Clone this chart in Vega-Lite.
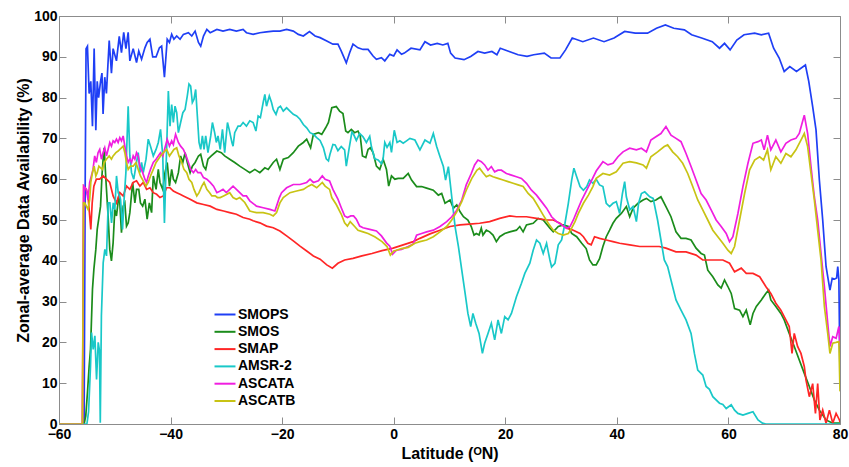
{
"$schema": "https://vega.github.io/schema/vega-lite/v6.json",
"width": 781, "height": 408,
"autosize": {"type": "none"},
"padding": {"left": 59, "top": 16, "right": 9, "bottom": 43},
"background": "white",
"config": {"view": {"stroke": null}, "font": "Liberation Sans"},
"data": {"values": [
{"sat":"SMOPS","lat":-60,"pct":0},{"sat":"SMOPS","lat":-55.5,"pct":0},{"sat":"SMOPS","lat":-55.3,"pct":60},{"sat":"SMOPS","lat":-55.15,"pct":92},{"sat":"SMOPS","lat":-54.9,"pct":92.6},{"sat":"SMOPS","lat":-54.6,"pct":81},{"sat":"SMOPS","lat":-54.3,"pct":84},{"sat":"SMOPS","lat":-54.0,"pct":73},{"sat":"SMOPS","lat":-53.7,"pct":92},{"sat":"SMOPS","lat":-53.4,"pct":72},{"sat":"SMOPS","lat":-53.15,"pct":84},{"sat":"SMOPS","lat":-52.9,"pct":80},{"sat":"SMOPS","lat":-52.55,"pct":84},{"sat":"SMOPS","lat":-52.3,"pct":86},{"sat":"SMOPS","lat":-52.1,"pct":76},{"sat":"SMOPS","lat":-51.8,"pct":85},{"sat":"SMOPS","lat":-51.5,"pct":81},{"sat":"SMOPS","lat":-51.0,"pct":94},{"sat":"SMOPS","lat":-50.6,"pct":86},{"sat":"SMOPS","lat":-50.3,"pct":92},{"sat":"SMOPS","lat":-49.7,"pct":89},{"sat":"SMOPS","lat":-49.2,"pct":95},{"sat":"SMOPS","lat":-48.8,"pct":91},{"sat":"SMOPS","lat":-48.4,"pct":96},{"sat":"SMOPS","lat":-48.0,"pct":92},{"sat":"SMOPS","lat":-47.6,"pct":96},{"sat":"SMOPS","lat":-47.3,"pct":89},{"sat":"SMOPS","lat":-46.7,"pct":92},{"sat":"SMOPS","lat":-46.1,"pct":88.6},{"sat":"SMOPS","lat":-45.7,"pct":91.4},{"sat":"SMOPS","lat":-45.2,"pct":89.4},{"sat":"SMOPS","lat":-44.6,"pct":92.2},{"sat":"SMOPS","lat":-44.2,"pct":93.5},{"sat":"SMOPS","lat":-43.7,"pct":94.3},{"sat":"SMOPS","lat":-43.2,"pct":90},{"sat":"SMOPS","lat":-42.6,"pct":90},{"sat":"SMOPS","lat":-42.0,"pct":92.2},{"sat":"SMOPS","lat":-41.6,"pct":92.6},{"sat":"SMOPS","lat":-41.1,"pct":85},{"sat":"SMOPS","lat":-40.6,"pct":94.3},{"sat":"SMOPS","lat":-40.2,"pct":93.5},{"sat":"SMOPS","lat":-39.8,"pct":95.5},{"sat":"SMOPS","lat":-39.4,"pct":94.3},{"sat":"SMOPS","lat":-38.9,"pct":95.1},{"sat":"SMOPS","lat":-38.3,"pct":94.3},{"sat":"SMOPS","lat":-37.7,"pct":95.5},{"sat":"SMOPS","lat":-36.8,"pct":95.9},{"sat":"SMOPS","lat":-36.2,"pct":95.1},{"sat":"SMOPS","lat":-35.6,"pct":96.3},{"sat":"SMOPS","lat":-35.0,"pct":93.5},{"sat":"SMOPS","lat":-34.6,"pct":92.6},{"sat":"SMOPS","lat":-34.1,"pct":95.1},{"sat":"SMOPS","lat":-33.5,"pct":96.7},{"sat":"SMOPS","lat":-32.9,"pct":95.9},{"sat":"SMOPS","lat":-31.7,"pct":96.7},{"sat":"SMOPS","lat":-30.6,"pct":96.3},{"sat":"SMOPS","lat":-29.4,"pct":96.7},{"sat":"SMOPS","lat":-28.2,"pct":96.3},{"sat":"SMOPS","lat":-27.0,"pct":96.7},{"sat":"SMOPS","lat":-26.4,"pct":95.9},{"sat":"SMOPS","lat":-25.2,"pct":95.5},{"sat":"SMOPS","lat":-24.0,"pct":95.9},{"sat":"SMOPS","lat":-22.8,"pct":96.1},{"sat":"SMOPS","lat":-21.6,"pct":96.3},{"sat":"SMOPS","lat":-20.4,"pct":96.3},{"sat":"SMOPS","lat":-19.2,"pct":96.7},{"sat":"SMOPS","lat":-18.0,"pct":96.3},{"sat":"SMOPS","lat":-17.1,"pct":95.5},{"sat":"SMOPS","lat":-16.2,"pct":95.1},{"sat":"SMOPS","lat":-15.1,"pct":96.2},{"sat":"SMOPS","lat":-14.1,"pct":95.1},{"sat":"SMOPS","lat":-13.2,"pct":94.7},{"sat":"SMOPS","lat":-12.0,"pct":93.9},{"sat":"SMOPS","lat":-10.9,"pct":93.1},{"sat":"SMOPS","lat":-10.0,"pct":93.1},{"sat":"SMOPS","lat":-9.4,"pct":91.4},{"sat":"SMOPS","lat":-8.5,"pct":88.5},{"sat":"SMOPS","lat":-7.9,"pct":91.0},{"sat":"SMOPS","lat":-7.3,"pct":93.1},{"sat":"SMOPS","lat":-6.4,"pct":92.2},{"sat":"SMOPS","lat":-5.5,"pct":91.8},{"sat":"SMOPS","lat":-4.6,"pct":91.8},{"sat":"SMOPS","lat":-3.7,"pct":90.2},{"sat":"SMOPS","lat":-3.1,"pct":89.4},{"sat":"SMOPS","lat":-2.2,"pct":89.8},{"sat":"SMOPS","lat":-1.6,"pct":89.0},{"sat":"SMOPS","lat":-0.7,"pct":90.6},{"sat":"SMOPS","lat":0.0,"pct":90.2},{"sat":"SMOPS","lat":0.6,"pct":91.7},{"sat":"SMOPS","lat":1.4,"pct":90.6},{"sat":"SMOPS","lat":1.9,"pct":90.9},{"sat":"SMOPS","lat":3.1,"pct":92.1},{"sat":"SMOPS","lat":4.7,"pct":91.7},{"sat":"SMOPS","lat":5.6,"pct":93.7},{"sat":"SMOPS","lat":6.6,"pct":92.9},{"sat":"SMOPS","lat":7.8,"pct":93.3},{"sat":"SMOPS","lat":8.8,"pct":92.9},{"sat":"SMOPS","lat":9.7,"pct":93.3},{"sat":"SMOPS","lat":10.2,"pct":90.9},{"sat":"SMOPS","lat":11.0,"pct":89.7},{"sat":"SMOPS","lat":12.6,"pct":89.3},{"sat":"SMOPS","lat":13.8,"pct":90.1},{"sat":"SMOPS","lat":15.1,"pct":91.3},{"sat":"SMOPS","lat":16.3,"pct":90.9},{"sat":"SMOPS","lat":17.6,"pct":91.3},{"sat":"SMOPS","lat":18.5,"pct":90.5},{"sat":"SMOPS","lat":19.1,"pct":92.1},{"sat":"SMOPS","lat":20.7,"pct":91.3},{"sat":"SMOPS","lat":22.3,"pct":90.5},{"sat":"SMOPS","lat":23.9,"pct":90.1},{"sat":"SMOPS","lat":25.1,"pct":90.5},{"sat":"SMOPS","lat":27.0,"pct":90.9},{"sat":"SMOPS","lat":28.2,"pct":89.7},{"sat":"SMOPS","lat":29.8,"pct":89.7},{"sat":"SMOPS","lat":30.8,"pct":91.7},{"sat":"SMOPS","lat":32.0,"pct":94.6},{"sat":"SMOPS","lat":33.9,"pct":93.7},{"sat":"SMOPS","lat":35.8,"pct":94.6},{"sat":"SMOPS","lat":37.7,"pct":93.7},{"sat":"SMOPS","lat":39.5,"pct":94.6},{"sat":"SMOPS","lat":41.4,"pct":96.2},{"sat":"SMOPS","lat":43.3,"pct":95.8},{"sat":"SMOPS","lat":45.5,"pct":95.8},{"sat":"SMOPS","lat":47.1,"pct":97.0},{"sat":"SMOPS","lat":48.7,"pct":97.8},{"sat":"SMOPS","lat":50.2,"pct":97.0},{"sat":"SMOPS","lat":52.1,"pct":96.6},{"sat":"SMOPS","lat":53.4,"pct":95.4},{"sat":"SMOPS","lat":55.2,"pct":94.6},{"sat":"SMOPS","lat":57.1,"pct":93.7},{"sat":"SMOPS","lat":58.4,"pct":92.1},{"sat":"SMOPS","lat":59.3,"pct":93.3},{"sat":"SMOPS","lat":60.3,"pct":91.7},{"sat":"SMOPS","lat":61.5,"pct":94.1},{"sat":"SMOPS","lat":62.8,"pct":95.4},{"sat":"SMOPS","lat":64.7,"pct":95.8},{"sat":"SMOPS","lat":65.9,"pct":95.4},{"sat":"SMOPS","lat":67.2,"pct":95.8},{"sat":"SMOPS","lat":68.1,"pct":92.1},{"sat":"SMOPS","lat":69.1,"pct":89.7},{"sat":"SMOPS","lat":70.0,"pct":86.4},{"sat":"SMOPS","lat":71.0,"pct":87.6},{"sat":"SMOPS","lat":72.2,"pct":86.4},{"sat":"SMOPS","lat":73.8,"pct":88.0},{"sat":"SMOPS","lat":74.4,"pct":84},{"sat":"SMOPS","lat":75.1,"pct":77.8},{"sat":"SMOPS","lat":75.7,"pct":72.1},{"sat":"SMOPS","lat":76.3,"pct":59.8},{"sat":"SMOPS","lat":76.9,"pct":50},{"sat":"SMOPS","lat":77.5,"pct":38.6},{"sat":"SMOPS","lat":77.8,"pct":36.1},{"sat":"SMOPS","lat":78.2,"pct":32.8},{"sat":"SMOPS","lat":78.6,"pct":35.7},{"sat":"SMOPS","lat":79.0,"pct":35.5},{"sat":"SMOPS","lat":79.4,"pct":35.8},{"sat":"SMOPS","lat":79.6,"pct":38.6},{"sat":"SMOPS","lat":79.8,"pct":35.3},{"sat":"SMOPS","lat":80,"pct":12},
{"sat":"SMOS","lat":-60,"pct":0},{"sat":"SMOS","lat":-55.5,"pct":0},{"sat":"SMOS","lat":-55.2,"pct":2},{"sat":"SMOS","lat":-54.9,"pct":7.7},{"sat":"SMOS","lat":-54.6,"pct":14},{"sat":"SMOS","lat":-54.35,"pct":18.3},{"sat":"SMOS","lat":-54.0,"pct":33},{"sat":"SMOS","lat":-53.75,"pct":37.9},{"sat":"SMOS","lat":-53.4,"pct":42.8},{"sat":"SMOS","lat":-53.15,"pct":47.7},{"sat":"SMOS","lat":-52.8,"pct":51},{"sat":"SMOS","lat":-52.55,"pct":53.4},{"sat":"SMOS","lat":-52.3,"pct":60.8},{"sat":"SMOS","lat":-52.05,"pct":65.7},{"sat":"SMOS","lat":-51.9,"pct":67.7},{"sat":"SMOS","lat":-51.6,"pct":60},{"sat":"SMOS","lat":-51.2,"pct":51},{"sat":"SMOS","lat":-50.9,"pct":42.8},{"sat":"SMOS","lat":-50.6,"pct":40},{"sat":"SMOS","lat":-50.3,"pct":44.4},{"sat":"SMOS","lat":-50.0,"pct":52.6},{"sat":"SMOS","lat":-49.7,"pct":51},{"sat":"SMOS","lat":-49.2,"pct":56.7},{"sat":"SMOS","lat":-48.8,"pct":46.9},{"sat":"SMOS","lat":-48.5,"pct":53.4},{"sat":"SMOS","lat":-48.2,"pct":54.2},{"sat":"SMOS","lat":-47.9,"pct":48.5},{"sat":"SMOS","lat":-47.6,"pct":49.3},{"sat":"SMOS","lat":-47.3,"pct":51.8},{"sat":"SMOS","lat":-46.8,"pct":59.2},{"sat":"SMOS","lat":-46.4,"pct":54.2},{"sat":"SMOS","lat":-46.1,"pct":57.5},{"sat":"SMOS","lat":-45.7,"pct":57.5},{"sat":"SMOS","lat":-45.4,"pct":54.2},{"sat":"SMOS","lat":-45.0,"pct":53.4},{"sat":"SMOS","lat":-44.6,"pct":55.1},{"sat":"SMOS","lat":-44.2,"pct":50.2},{"sat":"SMOS","lat":-43.8,"pct":54.2},{"sat":"SMOS","lat":-43.4,"pct":51.8},{"sat":"SMOS","lat":-43.1,"pct":60.8},{"sat":"SMOS","lat":-42.6,"pct":57.5},{"sat":"SMOS","lat":-42.2,"pct":62.4},{"sat":"SMOS","lat":-41.9,"pct":59.2},{"sat":"SMOS","lat":-41.4,"pct":57.5},{"sat":"SMOS","lat":-41.0,"pct":61.6},{"sat":"SMOS","lat":-40.6,"pct":64.1},{"sat":"SMOS","lat":-40.2,"pct":58.3},{"sat":"SMOS","lat":-39.8,"pct":62.4},{"sat":"SMOS","lat":-39.5,"pct":60},{"sat":"SMOS","lat":-39.1,"pct":59.2},{"sat":"SMOS","lat":-38.6,"pct":61.6},{"sat":"SMOS","lat":-38.2,"pct":65.7},{"sat":"SMOS","lat":-37.8,"pct":64.1},{"sat":"SMOS","lat":-37.4,"pct":66.5},{"sat":"SMOS","lat":-37.0,"pct":64.1},{"sat":"SMOS","lat":-36.5,"pct":61.6},{"sat":"SMOS","lat":-36.1,"pct":63.2},{"sat":"SMOS","lat":-35.6,"pct":64.1},{"sat":"SMOS","lat":-35.0,"pct":65.7},{"sat":"SMOS","lat":-34.6,"pct":66.1},{"sat":"SMOS","lat":-34.1,"pct":63.2},{"sat":"SMOS","lat":-33.7,"pct":62.4},{"sat":"SMOS","lat":-33.3,"pct":64.9},{"sat":"SMOS","lat":-32.7,"pct":65.7},{"sat":"SMOS","lat":-31.7,"pct":66.9},{"sat":"SMOS","lat":-30.9,"pct":66.5},{"sat":"SMOS","lat":-30.3,"pct":65.7},{"sat":"SMOS","lat":-29.4,"pct":64.9},{"sat":"SMOS","lat":-28.5,"pct":64.1},{"sat":"SMOS","lat":-27.6,"pct":63.2},{"sat":"SMOS","lat":-26.7,"pct":62.4},{"sat":"SMOS","lat":-25.8,"pct":61.6},{"sat":"SMOS","lat":-24.9,"pct":62.4},{"sat":"SMOS","lat":-24.0,"pct":61.6},{"sat":"SMOS","lat":-23.1,"pct":62.8},{"sat":"SMOS","lat":-22.5,"pct":62.4},{"sat":"SMOS","lat":-21.6,"pct":64.1},{"sat":"SMOS","lat":-21.0,"pct":64.9},{"sat":"SMOS","lat":-20.4,"pct":62.4},{"sat":"SMOS","lat":-19.8,"pct":64.9},{"sat":"SMOS","lat":-18.9,"pct":65.3},{"sat":"SMOS","lat":-18.0,"pct":66.5},{"sat":"SMOS","lat":-17.1,"pct":68.1},{"sat":"SMOS","lat":-16.2,"pct":69.0},{"sat":"SMOS","lat":-15.6,"pct":69.8},{"sat":"SMOS","lat":-14.9,"pct":67.7},{"sat":"SMOS","lat":-14.4,"pct":71.0},{"sat":"SMOS","lat":-13.5,"pct":71.4},{"sat":"SMOS","lat":-12.9,"pct":71.0},{"sat":"SMOS","lat":-12.2,"pct":72.6},{"sat":"SMOS","lat":-11.7,"pct":73.9},{"sat":"SMOS","lat":-11.1,"pct":77.5},{"sat":"SMOS","lat":-10.3,"pct":77.8},{"sat":"SMOS","lat":-9.7,"pct":76.7},{"sat":"SMOS","lat":-9.1,"pct":76.1},{"sat":"SMOS","lat":-8.6,"pct":71.8},{"sat":"SMOS","lat":-8.2,"pct":71.4},{"sat":"SMOS","lat":-7.6,"pct":72.2},{"sat":"SMOS","lat":-7.0,"pct":71.4},{"sat":"SMOS","lat":-6.4,"pct":71.8},{"sat":"SMOS","lat":-6.0,"pct":70.6},{"sat":"SMOS","lat":-5.6,"pct":65.7},{"sat":"SMOS","lat":-5.0,"pct":65.3},{"sat":"SMOS","lat":-4.6,"pct":67.3},{"sat":"SMOS","lat":-4.2,"pct":67.7},{"sat":"SMOS","lat":-3.7,"pct":66.5},{"sat":"SMOS","lat":-3.1,"pct":63.2},{"sat":"SMOS","lat":-2.5,"pct":62.4},{"sat":"SMOS","lat":-1.9,"pct":64.9},{"sat":"SMOS","lat":-1.3,"pct":62.4},{"sat":"SMOS","lat":-0.9,"pct":58.3},{"sat":"SMOS","lat":-0.4,"pct":60.8},{"sat":"SMOS","lat":0.2,"pct":60.0},{"sat":"SMOS","lat":0.8,"pct":60.2},{"sat":"SMOS","lat":1.7,"pct":60.2},{"sat":"SMOS","lat":2.6,"pct":61.4},{"sat":"SMOS","lat":3.2,"pct":59.8},{"sat":"SMOS","lat":4.1,"pct":58.2},{"sat":"SMOS","lat":5.0,"pct":58.2},{"sat":"SMOS","lat":5.9,"pct":57.8},{"sat":"SMOS","lat":7.1,"pct":57.3},{"sat":"SMOS","lat":8.0,"pct":56.1},{"sat":"SMOS","lat":8.6,"pct":56.5},{"sat":"SMOS","lat":9.2,"pct":54.1},{"sat":"SMOS","lat":10.1,"pct":54.9},{"sat":"SMOS","lat":10.7,"pct":52.9},{"sat":"SMOS","lat":11.3,"pct":53.7},{"sat":"SMOS","lat":11.9,"pct":52.0},{"sat":"SMOS","lat":12.5,"pct":50.8},{"sat":"SMOS","lat":13.3,"pct":50.0},{"sat":"SMOS","lat":13.9,"pct":48.4},{"sat":"SMOS","lat":14.4,"pct":46.3},{"sat":"SMOS","lat":14.8,"pct":46.7},{"sat":"SMOS","lat":15.3,"pct":46.3},{"sat":"SMOS","lat":15.7,"pct":48.0},{"sat":"SMOS","lat":16.0,"pct":46.3},{"sat":"SMOS","lat":16.6,"pct":47.5},{"sat":"SMOS","lat":17.2,"pct":47.1},{"sat":"SMOS","lat":17.8,"pct":46.3},{"sat":"SMOS","lat":18.4,"pct":44.7},{"sat":"SMOS","lat":19.0,"pct":45.9},{"sat":"SMOS","lat":19.9,"pct":46.7},{"sat":"SMOS","lat":20.8,"pct":47.1},{"sat":"SMOS","lat":22.0,"pct":47.5},{"sat":"SMOS","lat":22.6,"pct":48.4},{"sat":"SMOS","lat":23.2,"pct":47.1},{"sat":"SMOS","lat":23.8,"pct":48.8},{"sat":"SMOS","lat":25.0,"pct":49.2},{"sat":"SMOS","lat":25.9,"pct":50.4},{"sat":"SMOS","lat":26.8,"pct":50.0},{"sat":"SMOS","lat":28.0,"pct":48.0},{"sat":"SMOS","lat":28.6,"pct":47.1},{"sat":"SMOS","lat":29.5,"pct":48.4},{"sat":"SMOS","lat":30.4,"pct":48.8},{"sat":"SMOS","lat":31.3,"pct":48.4},{"sat":"SMOS","lat":31.9,"pct":46.7},{"sat":"SMOS","lat":32.8,"pct":45.9},{"sat":"SMOS","lat":33.7,"pct":44.3},{"sat":"SMOS","lat":34.5,"pct":43.0},{"sat":"SMOS","lat":35.1,"pct":40.2},{"sat":"SMOS","lat":35.7,"pct":39.0},{"sat":"SMOS","lat":36.3,"pct":39.0},{"sat":"SMOS","lat":36.9,"pct":40.5},{"sat":"SMOS","lat":37.5,"pct":43.5},{"sat":"SMOS","lat":38.1,"pct":45.9},{"sat":"SMOS","lat":38.7,"pct":47.5},{"sat":"SMOS","lat":39.3,"pct":49.2},{"sat":"SMOS","lat":39.9,"pct":50.4},{"sat":"SMOS","lat":40.8,"pct":51.6},{"sat":"SMOS","lat":41.7,"pct":53.3},{"sat":"SMOS","lat":42.3,"pct":50.8},{"sat":"SMOS","lat":42.9,"pct":52.9},{"sat":"SMOS","lat":43.8,"pct":54.1},{"sat":"SMOS","lat":44.7,"pct":54.9},{"sat":"SMOS","lat":45.3,"pct":55.3},{"sat":"SMOS","lat":46.1,"pct":54.5},{"sat":"SMOS","lat":47.0,"pct":54.9},{"sat":"SMOS","lat":47.9,"pct":55.7},{"sat":"SMOS","lat":48.8,"pct":53.3},{"sat":"SMOS","lat":49.7,"pct":50.8},{"sat":"SMOS","lat":50.6,"pct":47.1},{"sat":"SMOS","lat":51.5,"pct":45.5},{"sat":"SMOS","lat":52.4,"pct":45.5},{"sat":"SMOS","lat":53.3,"pct":45.1},{"sat":"SMOS","lat":54.2,"pct":43.1},{"sat":"SMOS","lat":55.1,"pct":41.8},{"sat":"SMOS","lat":55.7,"pct":41.4},{"sat":"SMOS","lat":56.3,"pct":37.7},{"sat":"SMOS","lat":57.2,"pct":36.1},{"sat":"SMOS","lat":58.1,"pct":34.1},{"sat":"SMOS","lat":58.7,"pct":33.3},{"sat":"SMOS","lat":59.3,"pct":35.3},{"sat":"SMOS","lat":59.9,"pct":33.7},{"sat":"SMOS","lat":60.5,"pct":32.0},{"sat":"SMOS","lat":61.1,"pct":28.3},{"sat":"SMOS","lat":62.0,"pct":27.9},{"sat":"SMOS","lat":62.6,"pct":26.3},{"sat":"SMOS","lat":63.2,"pct":27.9},{"sat":"SMOS","lat":63.9,"pct":24.3},{"sat":"SMOS","lat":64.4,"pct":27.1},{"sat":"SMOS","lat":65.0,"pct":28.8},{"sat":"SMOS","lat":65.9,"pct":30.4},{"sat":"SMOS","lat":66.7,"pct":32.0},{"sat":"SMOS","lat":67.2,"pct":32.8},{"sat":"SMOS","lat":67.6,"pct":30.4},{"sat":"SMOS","lat":68.5,"pct":28.8},{"sat":"SMOS","lat":69.4,"pct":27.1},{"sat":"SMOS","lat":70.0,"pct":25.5},{"sat":"SMOS","lat":70.9,"pct":22.2},{"sat":"SMOS","lat":71.8,"pct":19.0},{"sat":"SMOS","lat":72.7,"pct":15.7},{"sat":"SMOS","lat":73.6,"pct":12.4},{"sat":"SMOS","lat":74.5,"pct":9.2},{"sat":"SMOS","lat":75.4,"pct":5.9},{"sat":"SMOS","lat":76.3,"pct":3.4},{"sat":"SMOS","lat":77.5,"pct":1.0},{"sat":"SMOS","lat":78.7,"pct":0.2},{"sat":"SMOS","lat":80,"pct":0.2},
{"sat":"SMAP","lat":-60,"pct":0},{"sat":"SMAP","lat":-55.8,"pct":0},{"sat":"SMAP","lat":-55.6,"pct":58.3},{"sat":"SMAP","lat":-55.1,"pct":57.5},{"sat":"SMAP","lat":-54.8,"pct":55.9},{"sat":"SMAP","lat":-54.5,"pct":51},{"sat":"SMAP","lat":-54.3,"pct":47.7},{"sat":"SMAP","lat":-54.05,"pct":54.2},{"sat":"SMAP","lat":-53.75,"pct":58.3},{"sat":"SMAP","lat":-53.3,"pct":60},{"sat":"SMAP","lat":-52.7,"pct":60},{"sat":"SMAP","lat":-52.1,"pct":60.8},{"sat":"SMAP","lat":-51.5,"pct":60},{"sat":"SMAP","lat":-50.9,"pct":59.2},{"sat":"SMAP","lat":-50.3,"pct":55.9},{"sat":"SMAP","lat":-49.7,"pct":54.2},{"sat":"SMAP","lat":-49.1,"pct":56.7},{"sat":"SMAP","lat":-48.5,"pct":55.9},{"sat":"SMAP","lat":-47.9,"pct":58.3},{"sat":"SMAP","lat":-47.3,"pct":57.5},{"sat":"SMAP","lat":-46.7,"pct":59.2},{"sat":"SMAP","lat":-46.1,"pct":59.6},{"sat":"SMAP","lat":-45.5,"pct":58.3},{"sat":"SMAP","lat":-44.9,"pct":59.2},{"sat":"SMAP","lat":-44.3,"pct":57.5},{"sat":"SMAP","lat":-43.7,"pct":57.9},{"sat":"SMAP","lat":-43.1,"pct":56.7},{"sat":"SMAP","lat":-42.5,"pct":56.3},{"sat":"SMAP","lat":-41.9,"pct":55.5},{"sat":"SMAP","lat":-41.3,"pct":55.9},{"sat":"SMAP","lat":-40.7,"pct":57.9},{"sat":"SMAP","lat":-40.1,"pct":57.9},{"sat":"SMAP","lat":-39.5,"pct":57.1},{"sat":"SMAP","lat":-38.9,"pct":56.7},{"sat":"SMAP","lat":-38.3,"pct":56.3},{"sat":"SMAP","lat":-37.7,"pct":55.9},{"sat":"SMAP","lat":-36.5,"pct":55.1},{"sat":"SMAP","lat":-35.3,"pct":54.2},{"sat":"SMAP","lat":-34.1,"pct":53.8},{"sat":"SMAP","lat":-32.9,"pct":53.4},{"sat":"SMAP","lat":-31.7,"pct":52.6},{"sat":"SMAP","lat":-30.5,"pct":52.2},{"sat":"SMAP","lat":-29.4,"pct":51.8},{"sat":"SMAP","lat":-28.2,"pct":51.4},{"sat":"SMAP","lat":-27.0,"pct":50.6},{"sat":"SMAP","lat":-25.8,"pct":50.2},{"sat":"SMAP","lat":-25.2,"pct":49.8},{"sat":"SMAP","lat":-24.0,"pct":49.3},{"sat":"SMAP","lat":-22.8,"pct":48.5},{"sat":"SMAP","lat":-21.6,"pct":48.1},{"sat":"SMAP","lat":-20.4,"pct":47.3},{"sat":"SMAP","lat":-19.2,"pct":46.1},{"sat":"SMAP","lat":-18.0,"pct":44.9},{"sat":"SMAP","lat":-16.8,"pct":43.6},{"sat":"SMAP","lat":-15.6,"pct":42.4},{"sat":"SMAP","lat":-14.4,"pct":41.2},{"sat":"SMAP","lat":-13.2,"pct":40.4},{"sat":"SMAP","lat":-12.0,"pct":39.0},{"sat":"SMAP","lat":-11.0,"pct":38.2},{"sat":"SMAP","lat":-10.0,"pct":39.4},{"sat":"SMAP","lat":-8.8,"pct":40.2},{"sat":"SMAP","lat":-7.3,"pct":40.6},{"sat":"SMAP","lat":-5.7,"pct":41.2},{"sat":"SMAP","lat":-3.9,"pct":41.8},{"sat":"SMAP","lat":-2.1,"pct":42.5},{"sat":"SMAP","lat":-0.1,"pct":43.1},{"sat":"SMAP","lat":1.7,"pct":43.9},{"sat":"SMAP","lat":3.5,"pct":44.7},{"sat":"SMAP","lat":4.7,"pct":45.5},{"sat":"SMAP","lat":6.5,"pct":46.6},{"sat":"SMAP","lat":8.3,"pct":47.5},{"sat":"SMAP","lat":10.1,"pct":48.4},{"sat":"SMAP","lat":11.9,"pct":48.8},{"sat":"SMAP","lat":13.6,"pct":49.0},{"sat":"SMAP","lat":15.4,"pct":49.2},{"sat":"SMAP","lat":17.2,"pct":49.6},{"sat":"SMAP","lat":19.0,"pct":50.4},{"sat":"SMAP","lat":20.8,"pct":51.0},{"sat":"SMAP","lat":22.0,"pct":50.8},{"sat":"SMAP","lat":23.8,"pct":50.8},{"sat":"SMAP","lat":25.6,"pct":50.4},{"sat":"SMAP","lat":27.4,"pct":50.0},{"sat":"SMAP","lat":28.6,"pct":50.0},{"sat":"SMAP","lat":29.8,"pct":49.2},{"sat":"SMAP","lat":31.0,"pct":48.0},{"sat":"SMAP","lat":32.2,"pct":47.5},{"sat":"SMAP","lat":33.4,"pct":46.7},{"sat":"SMAP","lat":34.0,"pct":45.9},{"sat":"SMAP","lat":34.8,"pct":44.3},{"sat":"SMAP","lat":35.4,"pct":43.9},{"sat":"SMAP","lat":36.0,"pct":45.9},{"sat":"SMAP","lat":36.9,"pct":45.5},{"sat":"SMAP","lat":38.1,"pct":45.1},{"sat":"SMAP","lat":39.3,"pct":44.7},{"sat":"SMAP","lat":40.5,"pct":44.3},{"sat":"SMAP","lat":42.3,"pct":43.9},{"sat":"SMAP","lat":44.1,"pct":43.5},{"sat":"SMAP","lat":45.9,"pct":43.5},{"sat":"SMAP","lat":47.6,"pct":43.5},{"sat":"SMAP","lat":48.8,"pct":43.1},{"sat":"SMAP","lat":50.6,"pct":42.2},{"sat":"SMAP","lat":52.4,"pct":42.2},{"sat":"SMAP","lat":54.2,"pct":41.4},{"sat":"SMAP","lat":55.4,"pct":40.2},{"sat":"SMAP","lat":57.2,"pct":40.2},{"sat":"SMAP","lat":59.0,"pct":40.2},{"sat":"SMAP","lat":60.2,"pct":39.4},{"sat":"SMAP","lat":61.1,"pct":37.3},{"sat":"SMAP","lat":62.3,"pct":38.2},{"sat":"SMAP","lat":63.2,"pct":36.9},{"sat":"SMAP","lat":64.4,"pct":36.9},{"sat":"SMAP","lat":65.6,"pct":36.1},{"sat":"SMAP","lat":66.7,"pct":33.7},{"sat":"SMAP","lat":67.6,"pct":32.0},{"sat":"SMAP","lat":68.5,"pct":29.6},{"sat":"SMAP","lat":69.4,"pct":27.9},{"sat":"SMAP","lat":70.3,"pct":25.5},{"sat":"SMAP","lat":70.9,"pct":23.9},{"sat":"SMAP","lat":71.4,"pct":17.3},{"sat":"SMAP","lat":71.8,"pct":22.2},{"sat":"SMAP","lat":72.4,"pct":19.0},{"sat":"SMAP","lat":73.0,"pct":17.3},{"sat":"SMAP","lat":73.6,"pct":14.1},{"sat":"SMAP","lat":73.9,"pct":10.8},{"sat":"SMAP","lat":74.5,"pct":6.7},{"sat":"SMAP","lat":75.1,"pct":9.9},{"sat":"SMAP","lat":75.6,"pct":2.6},{"sat":"SMAP","lat":76.0,"pct":9.9},{"sat":"SMAP","lat":76.4,"pct":1.0},{"sat":"SMAP","lat":76.9,"pct":3.4},{"sat":"SMAP","lat":77.5,"pct":0.2},{"sat":"SMAP","lat":78.1,"pct":3.4},{"sat":"SMAP","lat":78.7,"pct":0.2},{"sat":"SMAP","lat":79.3,"pct":2.6},{"sat":"SMAP","lat":79.9,"pct":1.0},{"sat":"SMAP","lat":80,"pct":0.5},
{"sat":"AMSR-2","lat":-60,"pct":0},{"sat":"AMSR-2","lat":-55.0,"pct":0},{"sat":"AMSR-2","lat":-54.7,"pct":3},{"sat":"AMSR-2","lat":-54.35,"pct":14.2},{"sat":"AMSR-2","lat":-54.17,"pct":22.4},{"sat":"AMSR-2","lat":-53.87,"pct":18.3},{"sat":"AMSR-2","lat":-53.57,"pct":21.6},{"sat":"AMSR-2","lat":-53.27,"pct":10.9},{"sat":"AMSR-2","lat":-52.97,"pct":20},{"sat":"AMSR-2","lat":-52.75,"pct":18},{"sat":"AMSR-2","lat":-52.6,"pct":0.3},{"sat":"AMSR-2","lat":-52.4,"pct":26.5},{"sat":"AMSR-2","lat":-52.08,"pct":39.5},{"sat":"AMSR-2","lat":-51.78,"pct":42.8},{"sat":"AMSR-2","lat":-51.48,"pct":41.2},{"sat":"AMSR-2","lat":-51.18,"pct":54.2},{"sat":"AMSR-2","lat":-50.88,"pct":54.2},{"sat":"AMSR-2","lat":-50.58,"pct":49.3},{"sat":"AMSR-2","lat":-50.28,"pct":54.2},{"sat":"AMSR-2","lat":-49.99,"pct":52.6},{"sat":"AMSR-2","lat":-49.69,"pct":60.8},{"sat":"AMSR-2","lat":-49.39,"pct":56.7},{"sat":"AMSR-2","lat":-48.97,"pct":55.1},{"sat":"AMSR-2","lat":-48.61,"pct":47.7},{"sat":"AMSR-2","lat":-48.37,"pct":54.2},{"sat":"AMSR-2","lat":-48.01,"pct":61.6},{"sat":"AMSR-2","lat":-47.6,"pct":77.9},{"sat":"AMSR-2","lat":-47.3,"pct":65.7},{"sat":"AMSR-2","lat":-47.0,"pct":61.6},{"sat":"AMSR-2","lat":-46.6,"pct":60},{"sat":"AMSR-2","lat":-46.1,"pct":64.1},{"sat":"AMSR-2","lat":-45.8,"pct":66.5},{"sat":"AMSR-2","lat":-45.5,"pct":61.6},{"sat":"AMSR-2","lat":-45.2,"pct":64.1},{"sat":"AMSR-2","lat":-44.9,"pct":61.6},{"sat":"AMSR-2","lat":-44.4,"pct":64.9},{"sat":"AMSR-2","lat":-44.0,"pct":69.8},{"sat":"AMSR-2","lat":-43.6,"pct":68.1},{"sat":"AMSR-2","lat":-43.1,"pct":65.7},{"sat":"AMSR-2","lat":-42.6,"pct":67.3},{"sat":"AMSR-2","lat":-42.2,"pct":69.0},{"sat":"AMSR-2","lat":-41.8,"pct":72.2},{"sat":"AMSR-2","lat":-41.4,"pct":65.7},{"sat":"AMSR-2","lat":-41.1,"pct":49.3},{"sat":"AMSR-2","lat":-40.8,"pct":63.2},{"sat":"AMSR-2","lat":-40.4,"pct":81.6},{"sat":"AMSR-2","lat":-40.1,"pct":73.0},{"sat":"AMSR-2","lat":-39.8,"pct":78.3},{"sat":"AMSR-2","lat":-39.5,"pct":73.9},{"sat":"AMSR-2","lat":-39.2,"pct":77.9},{"sat":"AMSR-2","lat":-38.9,"pct":76.3},{"sat":"AMSR-2","lat":-38.6,"pct":71.4},{"sat":"AMSR-2","lat":-38.2,"pct":73.9},{"sat":"AMSR-2","lat":-37.8,"pct":76.3},{"sat":"AMSR-2","lat":-37.4,"pct":77.1},{"sat":"AMSR-2","lat":-37.0,"pct":80.4},{"sat":"AMSR-2","lat":-36.7,"pct":83.3},{"sat":"AMSR-2","lat":-36.4,"pct":82.8},{"sat":"AMSR-2","lat":-36.1,"pct":78.8},{"sat":"AMSR-2","lat":-35.8,"pct":79.6},{"sat":"AMSR-2","lat":-35.5,"pct":82.0},{"sat":"AMSR-2","lat":-35.2,"pct":75.5},{"sat":"AMSR-2","lat":-34.9,"pct":69.0},{"sat":"AMSR-2","lat":-34.6,"pct":67.3},{"sat":"AMSR-2","lat":-34.3,"pct":70.6},{"sat":"AMSR-2","lat":-34.0,"pct":67.3},{"sat":"AMSR-2","lat":-33.7,"pct":70.6},{"sat":"AMSR-2","lat":-33.3,"pct":66.5},{"sat":"AMSR-2","lat":-32.8,"pct":70.6},{"sat":"AMSR-2","lat":-32.5,"pct":73.9},{"sat":"AMSR-2","lat":-32.1,"pct":71.4},{"sat":"AMSR-2","lat":-31.8,"pct":69.0},{"sat":"AMSR-2","lat":-31.5,"pct":70.6},{"sat":"AMSR-2","lat":-31.1,"pct":67.3},{"sat":"AMSR-2","lat":-30.7,"pct":72.2},{"sat":"AMSR-2","lat":-30.3,"pct":66.5},{"sat":"AMSR-2","lat":-29.8,"pct":73.9},{"sat":"AMSR-2","lat":-29.5,"pct":72.2},{"sat":"AMSR-2","lat":-29.0,"pct":69.0},{"sat":"AMSR-2","lat":-28.8,"pct":68.1},{"sat":"AMSR-2","lat":-28.5,"pct":71.4},{"sat":"AMSR-2","lat":-28.2,"pct":72.2},{"sat":"AMSR-2","lat":-27.9,"pct":73.0},{"sat":"AMSR-2","lat":-27.5,"pct":73.0},{"sat":"AMSR-2","lat":-27.0,"pct":73.9},{"sat":"AMSR-2","lat":-26.4,"pct":73.0},{"sat":"AMSR-2","lat":-25.8,"pct":74.3},{"sat":"AMSR-2","lat":-25.2,"pct":73.9},{"sat":"AMSR-2","lat":-24.7,"pct":71.8},{"sat":"AMSR-2","lat":-24.3,"pct":75.5},{"sat":"AMSR-2","lat":-23.9,"pct":75.1},{"sat":"AMSR-2","lat":-23.4,"pct":78.8},{"sat":"AMSR-2","lat":-23.1,"pct":80.8},{"sat":"AMSR-2","lat":-22.8,"pct":77.9},{"sat":"AMSR-2","lat":-22.3,"pct":80.4},{"sat":"AMSR-2","lat":-21.9,"pct":78.8},{"sat":"AMSR-2","lat":-21.6,"pct":77.1},{"sat":"AMSR-2","lat":-21.1,"pct":75.9},{"sat":"AMSR-2","lat":-20.7,"pct":77.5},{"sat":"AMSR-2","lat":-20.3,"pct":77.9},{"sat":"AMSR-2","lat":-19.8,"pct":76.7},{"sat":"AMSR-2","lat":-19.2,"pct":77.5},{"sat":"AMSR-2","lat":-18.6,"pct":76.7},{"sat":"AMSR-2","lat":-18.0,"pct":75.9},{"sat":"AMSR-2","lat":-17.4,"pct":75.5},{"sat":"AMSR-2","lat":-16.8,"pct":74.7},{"sat":"AMSR-2","lat":-16.2,"pct":73.4},{"sat":"AMSR-2","lat":-15.6,"pct":72.6},{"sat":"AMSR-2","lat":-15.0,"pct":71.4},{"sat":"AMSR-2","lat":-14.4,"pct":71.0},{"sat":"AMSR-2","lat":-13.8,"pct":70.2},{"sat":"AMSR-2","lat":-13.2,"pct":69.5},{"sat":"AMSR-2","lat":-12.6,"pct":67.7},{"sat":"AMSR-2","lat":-12.1,"pct":65.0},{"sat":"AMSR-2","lat":-11.7,"pct":64.5},{"sat":"AMSR-2","lat":-11.45,"pct":66.0},{"sat":"AMSR-2","lat":-10.9,"pct":68.5},{"sat":"AMSR-2","lat":-10.5,"pct":68.4},{"sat":"AMSR-2","lat":-10.0,"pct":67.0},{"sat":"AMSR-2","lat":-9.4,"pct":68.0},{"sat":"AMSR-2","lat":-8.8,"pct":67.2},{"sat":"AMSR-2","lat":-8.5,"pct":63.2},{"sat":"AMSR-2","lat":-8.0,"pct":67.5},{"sat":"AMSR-2","lat":-7.5,"pct":71.5},{"sat":"AMSR-2","lat":-7.2,"pct":71.0},{"sat":"AMSR-2","lat":-6.7,"pct":69.5},{"sat":"AMSR-2","lat":-6.1,"pct":71.2},{"sat":"AMSR-2","lat":-5.5,"pct":70.4},{"sat":"AMSR-2","lat":-4.9,"pct":69.0},{"sat":"AMSR-2","lat":-4.3,"pct":70.5},{"sat":"AMSR-2","lat":-4.0,"pct":68.0},{"sat":"AMSR-2","lat":-3.4,"pct":65.0},{"sat":"AMSR-2","lat":-2.8,"pct":64.7},{"sat":"AMSR-2","lat":-2.2,"pct":63.8},{"sat":"AMSR-2","lat":-1.9,"pct":65.0},{"sat":"AMSR-2","lat":-1.6,"pct":69.0},{"sat":"AMSR-2","lat":-1.2,"pct":67.8},{"sat":"AMSR-2","lat":-0.7,"pct":69.0},{"sat":"AMSR-2","lat":-0.4,"pct":66.6},{"sat":"AMSR-2","lat":0.1,"pct":72.0},{"sat":"AMSR-2","lat":0.6,"pct":69.0},{"sat":"AMSR-2","lat":1.1,"pct":69.4},{"sat":"AMSR-2","lat":1.7,"pct":68.8},{"sat":"AMSR-2","lat":2.3,"pct":69.4},{"sat":"AMSR-2","lat":2.9,"pct":70.0},{"sat":"AMSR-2","lat":3.8,"pct":69.6},{"sat":"AMSR-2","lat":4.7,"pct":67.2},{"sat":"AMSR-2","lat":5.6,"pct":69.6},{"sat":"AMSR-2","lat":6.5,"pct":68.8},{"sat":"AMSR-2","lat":7.1,"pct":71.2},{"sat":"AMSR-2","lat":7.7,"pct":68.0},{"sat":"AMSR-2","lat":8.3,"pct":65.5},{"sat":"AMSR-2","lat":8.9,"pct":63.1},{"sat":"AMSR-2","lat":9.3,"pct":59.8},{"sat":"AMSR-2","lat":9.8,"pct":63.1},{"sat":"AMSR-2","lat":10.4,"pct":55.7},{"sat":"AMSR-2","lat":11.0,"pct":48.4},{"sat":"AMSR-2","lat":11.6,"pct":43.5},{"sat":"AMSR-2","lat":12.2,"pct":37.7},{"sat":"AMSR-2","lat":12.8,"pct":32.0},{"sat":"AMSR-2","lat":13.3,"pct":27.1},{"sat":"AMSR-2","lat":13.8,"pct":23.9},{"sat":"AMSR-2","lat":14.2,"pct":27.1},{"sat":"AMSR-2","lat":14.7,"pct":24.7},{"sat":"AMSR-2","lat":15.3,"pct":22.2},{"sat":"AMSR-2","lat":15.9,"pct":17.3},{"sat":"AMSR-2","lat":16.3,"pct":19.8},{"sat":"AMSR-2","lat":16.9,"pct":22.2},{"sat":"AMSR-2","lat":17.5,"pct":24.7},{"sat":"AMSR-2","lat":18.1,"pct":20.6},{"sat":"AMSR-2","lat":18.7,"pct":25.5},{"sat":"AMSR-2","lat":19.3,"pct":22.2},{"sat":"AMSR-2","lat":19.9,"pct":26.3},{"sat":"AMSR-2","lat":20.5,"pct":25.5},{"sat":"AMSR-2","lat":21.1,"pct":27.1},{"sat":"AMSR-2","lat":22.0,"pct":31.2},{"sat":"AMSR-2","lat":22.9,"pct":34.5},{"sat":"AMSR-2","lat":23.5,"pct":36.9},{"sat":"AMSR-2","lat":24.4,"pct":39.4},{"sat":"AMSR-2","lat":25.0,"pct":42.6},{"sat":"AMSR-2","lat":25.6,"pct":45.1},{"sat":"AMSR-2","lat":26.2,"pct":44.3},{"sat":"AMSR-2","lat":26.8,"pct":41.8},{"sat":"AMSR-2","lat":27.4,"pct":44.3},{"sat":"AMSR-2","lat":28.0,"pct":40.2},{"sat":"AMSR-2","lat":28.3,"pct":38.5},{"sat":"AMSR-2","lat":28.9,"pct":39.4},{"sat":"AMSR-2","lat":29.5,"pct":43.9},{"sat":"AMSR-2","lat":30.1,"pct":45.1},{"sat":"AMSR-2","lat":30.7,"pct":49.2},{"sat":"AMSR-2","lat":31.3,"pct":54.1},{"sat":"AMSR-2","lat":31.9,"pct":59.8},{"sat":"AMSR-2","lat":32.3,"pct":62.7},{"sat":"AMSR-2","lat":32.8,"pct":60.6},{"sat":"AMSR-2","lat":33.4,"pct":58.2},{"sat":"AMSR-2","lat":34.0,"pct":57.3},{"sat":"AMSR-2","lat":34.6,"pct":58.2},{"sat":"AMSR-2","lat":35.1,"pct":59.8},{"sat":"AMSR-2","lat":35.7,"pct":59.0},{"sat":"AMSR-2","lat":36.3,"pct":60.0},{"sat":"AMSR-2","lat":36.9,"pct":58.6},{"sat":"AMSR-2","lat":37.5,"pct":58.2},{"sat":"AMSR-2","lat":38.1,"pct":54.1},{"sat":"AMSR-2","lat":38.7,"pct":53.3},{"sat":"AMSR-2","lat":39.3,"pct":54.1},{"sat":"AMSR-2","lat":39.9,"pct":54.5},{"sat":"AMSR-2","lat":40.5,"pct":51.6},{"sat":"AMSR-2","lat":41.0,"pct":56.5},{"sat":"AMSR-2","lat":41.4,"pct":59.4},{"sat":"AMSR-2","lat":41.7,"pct":55.7},{"sat":"AMSR-2","lat":42.3,"pct":52.5},{"sat":"AMSR-2","lat":42.9,"pct":53.3},{"sat":"AMSR-2","lat":43.5,"pct":49.6},{"sat":"AMSR-2","lat":43.9,"pct":54.1},{"sat":"AMSR-2","lat":44.4,"pct":56.5},{"sat":"AMSR-2","lat":45.0,"pct":56.9},{"sat":"AMSR-2","lat":45.9,"pct":55.7},{"sat":"AMSR-2","lat":46.5,"pct":55.3},{"sat":"AMSR-2","lat":47.3,"pct":50.0},{"sat":"AMSR-2","lat":47.9,"pct":45.1},{"sat":"AMSR-2","lat":48.5,"pct":40.2},{"sat":"AMSR-2","lat":49.1,"pct":38.6},{"sat":"AMSR-2","lat":49.7,"pct":35.3},{"sat":"AMSR-2","lat":50.6,"pct":30.4},{"sat":"AMSR-2","lat":51.5,"pct":27.9},{"sat":"AMSR-2","lat":52.4,"pct":25.5},{"sat":"AMSR-2","lat":53.3,"pct":22.2},{"sat":"AMSR-2","lat":53.9,"pct":17.3},{"sat":"AMSR-2","lat":54.5,"pct":13.2},{"sat":"AMSR-2","lat":55.4,"pct":12.0},{"sat":"AMSR-2","lat":56.0,"pct":9.2},{"sat":"AMSR-2","lat":56.6,"pct":8.5},{"sat":"AMSR-2","lat":57.2,"pct":6.7},{"sat":"AMSR-2","lat":58.4,"pct":5.1},{"sat":"AMSR-2","lat":59.0,"pct":4.8},{"sat":"AMSR-2","lat":59.6,"pct":3.8},{"sat":"AMSR-2","lat":60.5,"pct":4.7},{"sat":"AMSR-2","lat":61.1,"pct":3.4},{"sat":"AMSR-2","lat":61.7,"pct":2.6},{"sat":"AMSR-2","lat":62.6,"pct":2.2},{"sat":"AMSR-2","lat":63.5,"pct":2.6},{"sat":"AMSR-2","lat":64.4,"pct":3.0},{"sat":"AMSR-2","lat":65.3,"pct":1.0},{"sat":"AMSR-2","lat":66.1,"pct":0.2},{"sat":"AMSR-2","lat":66.7,"pct":0},{"sat":"AMSR-2","lat":80,"pct":0},
{"sat":"ASCATA","lat":-60,"pct":0},{"sat":"ASCATA","lat":-55.8,"pct":0},{"sat":"ASCATA","lat":-55.55,"pct":58.3},{"sat":"ASCATA","lat":-55.1,"pct":57.5},{"sat":"ASCATA","lat":-54.8,"pct":55.0},{"sat":"ASCATA","lat":-54.5,"pct":59.2},{"sat":"ASCATA","lat":-54.2,"pct":60.8},{"sat":"ASCATA","lat":-53.9,"pct":62.4},{"sat":"ASCATA","lat":-53.6,"pct":65.7},{"sat":"ASCATA","lat":-53.3,"pct":64.1},{"sat":"ASCATA","lat":-53.0,"pct":66.5},{"sat":"ASCATA","lat":-52.7,"pct":67.3},{"sat":"ASCATA","lat":-52.4,"pct":64.9},{"sat":"ASCATA","lat":-52.1,"pct":66.5},{"sat":"ASCATA","lat":-51.8,"pct":67.7},{"sat":"ASCATA","lat":-51.5,"pct":65.7},{"sat":"ASCATA","lat":-51.2,"pct":67.3},{"sat":"ASCATA","lat":-50.9,"pct":69.0},{"sat":"ASCATA","lat":-50.6,"pct":68.1},{"sat":"ASCATA","lat":-50.3,"pct":69.4},{"sat":"ASCATA","lat":-50.0,"pct":69.0},{"sat":"ASCATA","lat":-49.7,"pct":69.8},{"sat":"ASCATA","lat":-49.4,"pct":69.0},{"sat":"ASCATA","lat":-49.1,"pct":70.2},{"sat":"ASCATA","lat":-48.8,"pct":69.4},{"sat":"ASCATA","lat":-48.5,"pct":70.6},{"sat":"ASCATA","lat":-48.2,"pct":68.1},{"sat":"ASCATA","lat":-47.9,"pct":65.7},{"sat":"ASCATA","lat":-47.6,"pct":64.1},{"sat":"ASCATA","lat":-47.3,"pct":64.9},{"sat":"ASCATA","lat":-47.0,"pct":64.1},{"sat":"ASCATA","lat":-46.7,"pct":65.7},{"sat":"ASCATA","lat":-46.4,"pct":64.9},{"sat":"ASCATA","lat":-46.1,"pct":66.5},{"sat":"ASCATA","lat":-45.8,"pct":65.7},{"sat":"ASCATA","lat":-45.5,"pct":63.2},{"sat":"ASCATA","lat":-45.0,"pct":61.6},{"sat":"ASCATA","lat":-44.6,"pct":60.0},{"sat":"ASCATA","lat":-44.3,"pct":59.2},{"sat":"ASCATA","lat":-44.0,"pct":60.8},{"sat":"ASCATA","lat":-43.6,"pct":62.4},{"sat":"ASCATA","lat":-43.1,"pct":64.1},{"sat":"ASCATA","lat":-42.6,"pct":64.9},{"sat":"ASCATA","lat":-42.2,"pct":65.7},{"sat":"ASCATA","lat":-41.8,"pct":66.5},{"sat":"ASCATA","lat":-41.4,"pct":65.7},{"sat":"ASCATA","lat":-41.0,"pct":67.7},{"sat":"ASCATA","lat":-40.6,"pct":69.8},{"sat":"ASCATA","lat":-40.2,"pct":68.1},{"sat":"ASCATA","lat":-39.8,"pct":69.4},{"sat":"ASCATA","lat":-39.5,"pct":68.5},{"sat":"ASCATA","lat":-39.1,"pct":71.0},{"sat":"ASCATA","lat":-38.6,"pct":69.0},{"sat":"ASCATA","lat":-38.2,"pct":68.1},{"sat":"ASCATA","lat":-37.7,"pct":67.3},{"sat":"ASCATA","lat":-37.2,"pct":65.7},{"sat":"ASCATA","lat":-36.8,"pct":64.1},{"sat":"ASCATA","lat":-36.4,"pct":62.4},{"sat":"ASCATA","lat":-35.9,"pct":61.6},{"sat":"ASCATA","lat":-35.5,"pct":62.4},{"sat":"ASCATA","lat":-35.1,"pct":61.6},{"sat":"ASCATA","lat":-34.6,"pct":61.6},{"sat":"ASCATA","lat":-34.1,"pct":60.4},{"sat":"ASCATA","lat":-33.5,"pct":60.0},{"sat":"ASCATA","lat":-32.9,"pct":59.2},{"sat":"ASCATA","lat":-32.3,"pct":58.3},{"sat":"ASCATA","lat":-31.7,"pct":56.7},{"sat":"ASCATA","lat":-31.1,"pct":57.1},{"sat":"ASCATA","lat":-30.6,"pct":57.5},{"sat":"ASCATA","lat":-30.0,"pct":56.7},{"sat":"ASCATA","lat":-29.4,"pct":57.5},{"sat":"ASCATA","lat":-28.8,"pct":58.3},{"sat":"ASCATA","lat":-28.2,"pct":57.5},{"sat":"ASCATA","lat":-27.6,"pct":56.7},{"sat":"ASCATA","lat":-27.0,"pct":55.9},{"sat":"ASCATA","lat":-26.4,"pct":55.9},{"sat":"ASCATA","lat":-25.8,"pct":54.7},{"sat":"ASCATA","lat":-24.6,"pct":53.4},{"sat":"ASCATA","lat":-23.4,"pct":53.0},{"sat":"ASCATA","lat":-22.2,"pct":52.6},{"sat":"ASCATA","lat":-21.3,"pct":52.2},{"sat":"ASCATA","lat":-21.0,"pct":53.4},{"sat":"ASCATA","lat":-20.5,"pct":55.5},{"sat":"ASCATA","lat":-20.1,"pct":56.7},{"sat":"ASCATA","lat":-19.2,"pct":57.9},{"sat":"ASCATA","lat":-18.0,"pct":58.7},{"sat":"ASCATA","lat":-16.8,"pct":58.7},{"sat":"ASCATA","lat":-15.6,"pct":59.2},{"sat":"ASCATA","lat":-15.0,"pct":60.0},{"sat":"ASCATA","lat":-14.4,"pct":59.2},{"sat":"ASCATA","lat":-13.5,"pct":59.6},{"sat":"ASCATA","lat":-12.8,"pct":60.8},{"sat":"ASCATA","lat":-12.3,"pct":60.0},{"sat":"ASCATA","lat":-11.5,"pct":59.6},{"sat":"ASCATA","lat":-10.9,"pct":57.5},{"sat":"ASCATA","lat":-10.0,"pct":55.1},{"sat":"ASCATA","lat":-9.4,"pct":53.0},{"sat":"ASCATA","lat":-8.8,"pct":51.0},{"sat":"ASCATA","lat":-8.3,"pct":50.6},{"sat":"ASCATA","lat":-7.7,"pct":51.0},{"sat":"ASCATA","lat":-7.2,"pct":51.0},{"sat":"ASCATA","lat":-6.7,"pct":50.2},{"sat":"ASCATA","lat":-6.1,"pct":48.5},{"sat":"ASCATA","lat":-5.5,"pct":48.1},{"sat":"ASCATA","lat":-4.3,"pct":47.7},{"sat":"ASCATA","lat":-3.1,"pct":47.3},{"sat":"ASCATA","lat":-2.2,"pct":46.1},{"sat":"ASCATA","lat":-1.3,"pct":44.4},{"sat":"ASCATA","lat":-0.7,"pct":43.6},{"sat":"ASCATA","lat":-0.2,"pct":41.6},{"sat":"ASCATA","lat":0.5,"pct":42.6},{"sat":"ASCATA","lat":1.4,"pct":42.8},{"sat":"ASCATA","lat":2.6,"pct":43.5},{"sat":"ASCATA","lat":3.5,"pct":44.1},{"sat":"ASCATA","lat":4.1,"pct":46.3},{"sat":"ASCATA","lat":5.0,"pct":46.7},{"sat":"ASCATA","lat":5.9,"pct":47.1},{"sat":"ASCATA","lat":7.1,"pct":47.5},{"sat":"ASCATA","lat":8.3,"pct":48.4},{"sat":"ASCATA","lat":9.5,"pct":49.6},{"sat":"ASCATA","lat":10.4,"pct":50.8},{"sat":"ASCATA","lat":11.3,"pct":52.4},{"sat":"ASCATA","lat":12.2,"pct":54.9},{"sat":"ASCATA","lat":13.0,"pct":58.6},{"sat":"ASCATA","lat":13.9,"pct":61.4},{"sat":"ASCATA","lat":14.5,"pct":63.5},{"sat":"ASCATA","lat":15.1,"pct":64.7},{"sat":"ASCATA","lat":15.7,"pct":64.3},{"sat":"ASCATA","lat":16.3,"pct":63.5},{"sat":"ASCATA","lat":16.9,"pct":62.2},{"sat":"ASCATA","lat":17.5,"pct":63.1},{"sat":"ASCATA","lat":18.1,"pct":61.8},{"sat":"ASCATA","lat":18.7,"pct":62.2},{"sat":"ASCATA","lat":19.3,"pct":62.2},{"sat":"ASCATA","lat":20.2,"pct":61.4},{"sat":"ASCATA","lat":21.1,"pct":61.0},{"sat":"ASCATA","lat":22.0,"pct":60.6},{"sat":"ASCATA","lat":22.9,"pct":60.2},{"sat":"ASCATA","lat":23.8,"pct":59.0},{"sat":"ASCATA","lat":24.7,"pct":57.3},{"sat":"ASCATA","lat":25.6,"pct":56.1},{"sat":"ASCATA","lat":26.5,"pct":54.5},{"sat":"ASCATA","lat":27.4,"pct":52.9},{"sat":"ASCATA","lat":28.3,"pct":50.8},{"sat":"ASCATA","lat":29.2,"pct":49.6},{"sat":"ASCATA","lat":30.1,"pct":48.8},{"sat":"ASCATA","lat":31.0,"pct":48.0},{"sat":"ASCATA","lat":31.6,"pct":48.4},{"sat":"ASCATA","lat":32.2,"pct":50.0},{"sat":"ASCATA","lat":32.8,"pct":52.0},{"sat":"ASCATA","lat":33.7,"pct":54.9},{"sat":"ASCATA","lat":34.6,"pct":57.3},{"sat":"ASCATA","lat":35.5,"pct":59.8},{"sat":"ASCATA","lat":36.3,"pct":62.0},{"sat":"ASCATA","lat":37.5,"pct":64.3},{"sat":"ASCATA","lat":38.4,"pct":63.5},{"sat":"ASCATA","lat":39.3,"pct":63.9},{"sat":"ASCATA","lat":40.2,"pct":65.5},{"sat":"ASCATA","lat":41.1,"pct":66.7},{"sat":"ASCATA","lat":42.3,"pct":67.6},{"sat":"ASCATA","lat":43.5,"pct":67.2},{"sat":"ASCATA","lat":44.4,"pct":67.6},{"sat":"ASCATA","lat":45.3,"pct":66.7},{"sat":"ASCATA","lat":46.1,"pct":69.6},{"sat":"ASCATA","lat":47.0,"pct":70.4},{"sat":"ASCATA","lat":47.9,"pct":71.2},{"sat":"ASCATA","lat":48.8,"pct":72.9},{"sat":"ASCATA","lat":49.7,"pct":70.8},{"sat":"ASCATA","lat":50.6,"pct":70.0},{"sat":"ASCATA","lat":51.5,"pct":69.2},{"sat":"ASCATA","lat":52.4,"pct":66.3},{"sat":"ASCATA","lat":53.3,"pct":63.1},{"sat":"ASCATA","lat":54.2,"pct":59.8},{"sat":"ASCATA","lat":55.1,"pct":56.5},{"sat":"ASCATA","lat":56.0,"pct":54.9},{"sat":"ASCATA","lat":56.9,"pct":52.5},{"sat":"ASCATA","lat":57.8,"pct":50.0},{"sat":"ASCATA","lat":58.7,"pct":48.4},{"sat":"ASCATA","lat":59.6,"pct":46.7},{"sat":"ASCATA","lat":60.2,"pct":44.7},{"sat":"ASCATA","lat":60.8,"pct":45.9},{"sat":"ASCATA","lat":61.7,"pct":51.6},{"sat":"ASCATA","lat":62.6,"pct":58.2},{"sat":"ASCATA","lat":63.5,"pct":63.9},{"sat":"ASCATA","lat":64.4,"pct":68.8},{"sat":"ASCATA","lat":65.3,"pct":69.2},{"sat":"ASCATA","lat":65.9,"pct":69.6},{"sat":"ASCATA","lat":66.4,"pct":67.2},{"sat":"ASCATA","lat":67.0,"pct":70.8},{"sat":"ASCATA","lat":67.6,"pct":67.2},{"sat":"ASCATA","lat":68.5,"pct":69.6},{"sat":"ASCATA","lat":69.4,"pct":66.7},{"sat":"ASCATA","lat":70.3,"pct":68.8},{"sat":"ASCATA","lat":71.2,"pct":69.6},{"sat":"ASCATA","lat":72.1,"pct":70.0},{"sat":"ASCATA","lat":72.7,"pct":71.2},{"sat":"ASCATA","lat":73.2,"pct":73.7},{"sat":"ASCATA","lat":73.6,"pct":75.7},{"sat":"ASCATA","lat":74.2,"pct":71.2},{"sat":"ASCATA","lat":74.8,"pct":63.1},{"sat":"ASCATA","lat":75.4,"pct":55.7},{"sat":"ASCATA","lat":76.0,"pct":50.0},{"sat":"ASCATA","lat":76.6,"pct":41.8},{"sat":"ASCATA","lat":77.2,"pct":33.7},{"sat":"ASCATA","lat":77.8,"pct":24.7},{"sat":"ASCATA","lat":78.2,"pct":19.0},{"sat":"ASCATA","lat":78.7,"pct":21.4},{"sat":"ASCATA","lat":79.3,"pct":21.0},{"sat":"ASCATA","lat":79.8,"pct":23.9},{"sat":"ASCATA","lat":80,"pct":19},
{"sat":"ASCATB","lat":-60,"pct":0},{"sat":"ASCATB","lat":-55.8,"pct":0},{"sat":"ASCATB","lat":-55.6,"pct":54.2},{"sat":"ASCATB","lat":-55.4,"pct":54.2},{"sat":"ASCATB","lat":-55.1,"pct":53.4},{"sat":"ASCATB","lat":-54.8,"pct":52.6},{"sat":"ASCATB","lat":-54.5,"pct":55.0},{"sat":"ASCATB","lat":-54.3,"pct":59.2},{"sat":"ASCATB","lat":-54.0,"pct":61.6},{"sat":"ASCATB","lat":-53.7,"pct":63.2},{"sat":"ASCATB","lat":-53.4,"pct":60.8},{"sat":"ASCATB","lat":-53.15,"pct":61.6},{"sat":"ASCATB","lat":-52.85,"pct":63.2},{"sat":"ASCATB","lat":-52.55,"pct":62.8},{"sat":"ASCATB","lat":-52.2,"pct":62.4},{"sat":"ASCATB","lat":-51.9,"pct":64.1},{"sat":"ASCATB","lat":-51.5,"pct":64.9},{"sat":"ASCATB","lat":-51.0,"pct":65.7},{"sat":"ASCATB","lat":-50.6,"pct":64.9},{"sat":"ASCATB","lat":-50.3,"pct":65.7},{"sat":"ASCATB","lat":-49.8,"pct":66.5},{"sat":"ASCATB","lat":-49.4,"pct":66.9},{"sat":"ASCATB","lat":-49.1,"pct":67.3},{"sat":"ASCATB","lat":-48.8,"pct":67.7},{"sat":"ASCATB","lat":-48.5,"pct":68.1},{"sat":"ASCATB","lat":-48.2,"pct":66.5},{"sat":"ASCATB","lat":-47.9,"pct":64.1},{"sat":"ASCATB","lat":-47.6,"pct":62.4},{"sat":"ASCATB","lat":-47.2,"pct":63.2},{"sat":"ASCATB","lat":-46.7,"pct":63.2},{"sat":"ASCATB","lat":-46.2,"pct":64.1},{"sat":"ASCATB","lat":-45.8,"pct":62.4},{"sat":"ASCATB","lat":-45.4,"pct":60.8},{"sat":"ASCATB","lat":-44.9,"pct":59.6},{"sat":"ASCATB","lat":-44.4,"pct":58.3},{"sat":"ASCATB","lat":-44.0,"pct":59.2},{"sat":"ASCATB","lat":-43.6,"pct":60.8},{"sat":"ASCATB","lat":-43.1,"pct":62.4},{"sat":"ASCATB","lat":-42.6,"pct":64.1},{"sat":"ASCATB","lat":-42.2,"pct":64.9},{"sat":"ASCATB","lat":-41.8,"pct":65.7},{"sat":"ASCATB","lat":-41.3,"pct":66.5},{"sat":"ASCATB","lat":-40.7,"pct":67.3},{"sat":"ASCATB","lat":-40.2,"pct":65.7},{"sat":"ASCATB","lat":-39.8,"pct":66.5},{"sat":"ASCATB","lat":-39.4,"pct":67.3},{"sat":"ASCATB","lat":-38.9,"pct":67.7},{"sat":"ASCATB","lat":-38.5,"pct":65.7},{"sat":"ASCATB","lat":-38.0,"pct":64.1},{"sat":"ASCATB","lat":-37.6,"pct":62.4},{"sat":"ASCATB","lat":-37.1,"pct":61.6},{"sat":"ASCATB","lat":-36.7,"pct":60.0},{"sat":"ASCATB","lat":-36.2,"pct":59.2},{"sat":"ASCATB","lat":-35.8,"pct":57.5},{"sat":"ASCATB","lat":-35.3,"pct":55.9},{"sat":"ASCATB","lat":-34.9,"pct":56.7},{"sat":"ASCATB","lat":-34.4,"pct":58.3},{"sat":"ASCATB","lat":-34.0,"pct":59.2},{"sat":"ASCATB","lat":-33.5,"pct":57.5},{"sat":"ASCATB","lat":-33.0,"pct":56.7},{"sat":"ASCATB","lat":-32.6,"pct":55.9},{"sat":"ASCATB","lat":-32.0,"pct":55.9},{"sat":"ASCATB","lat":-31.6,"pct":55.5},{"sat":"ASCATB","lat":-31.1,"pct":55.5},{"sat":"ASCATB","lat":-30.5,"pct":55.9},{"sat":"ASCATB","lat":-29.9,"pct":56.3},{"sat":"ASCATB","lat":-29.4,"pct":56.7},{"sat":"ASCATB","lat":-28.8,"pct":55.5},{"sat":"ASCATB","lat":-28.2,"pct":55.1},{"sat":"ASCATB","lat":-27.6,"pct":55.5},{"sat":"ASCATB","lat":-26.7,"pct":54.3},{"sat":"ASCATB","lat":-25.8,"pct":52.2},{"sat":"ASCATB","lat":-24.6,"pct":51.8},{"sat":"ASCATB","lat":-23.4,"pct":51.8},{"sat":"ASCATB","lat":-22.2,"pct":51.4},{"sat":"ASCATB","lat":-21.6,"pct":51.0},{"sat":"ASCATB","lat":-21.0,"pct":51.8},{"sat":"ASCATB","lat":-20.4,"pct":54.2},{"sat":"ASCATB","lat":-19.8,"pct":55.5},{"sat":"ASCATB","lat":-18.6,"pct":56.7},{"sat":"ASCATB","lat":-17.4,"pct":57.1},{"sat":"ASCATB","lat":-16.2,"pct":57.5},{"sat":"ASCATB","lat":-15.3,"pct":58.3},{"sat":"ASCATB","lat":-14.7,"pct":58.7},{"sat":"ASCATB","lat":-13.8,"pct":57.9},{"sat":"ASCATB","lat":-12.8,"pct":59.2},{"sat":"ASCATB","lat":-12.3,"pct":58.3},{"sat":"ASCATB","lat":-11.5,"pct":57.5},{"sat":"ASCATB","lat":-11.1,"pct":55.5},{"sat":"ASCATB","lat":-10.3,"pct":53.8},{"sat":"ASCATB","lat":-9.4,"pct":51.4},{"sat":"ASCATB","lat":-8.8,"pct":49.3},{"sat":"ASCATB","lat":-8.3,"pct":48.5},{"sat":"ASCATB","lat":-7.8,"pct":49.6},{"sat":"ASCATB","lat":-7.0,"pct":48.4},{"sat":"ASCATB","lat":-6.4,"pct":47.5},{"sat":"ASCATB","lat":-5.5,"pct":47.1},{"sat":"ASCATB","lat":-4.6,"pct":46.7},{"sat":"ASCATB","lat":-3.4,"pct":45.9},{"sat":"ASCATB","lat":-2.1,"pct":44.7},{"sat":"ASCATB","lat":-1.2,"pct":43.5},{"sat":"ASCATB","lat":-0.6,"pct":41.4},{"sat":"ASCATB","lat":0.0,"pct":42.4},{"sat":"ASCATB","lat":0.5,"pct":42.6},{"sat":"ASCATB","lat":1.4,"pct":43.0},{"sat":"ASCATB","lat":2.6,"pct":43.3},{"sat":"ASCATB","lat":3.8,"pct":44.3},{"sat":"ASCATB","lat":4.7,"pct":44.7},{"sat":"ASCATB","lat":5.9,"pct":45.1},{"sat":"ASCATB","lat":7.1,"pct":45.9},{"sat":"ASCATB","lat":8.3,"pct":47.1},{"sat":"ASCATB","lat":9.5,"pct":48.4},{"sat":"ASCATB","lat":10.4,"pct":50.0},{"sat":"ASCATB","lat":11.3,"pct":52.0},{"sat":"ASCATB","lat":12.2,"pct":54.5},{"sat":"ASCATB","lat":13.0,"pct":57.3},{"sat":"ASCATB","lat":14.0,"pct":60.2},{"sat":"ASCATB","lat":14.9,"pct":62.2},{"sat":"ASCATB","lat":15.4,"pct":62.7},{"sat":"ASCATB","lat":16.0,"pct":61.6},{"sat":"ASCATB","lat":16.6,"pct":60.6},{"sat":"ASCATB","lat":17.2,"pct":61.0},{"sat":"ASCATB","lat":17.8,"pct":60.6},{"sat":"ASCATB","lat":18.7,"pct":60.2},{"sat":"ASCATB","lat":19.6,"pct":59.8},{"sat":"ASCATB","lat":20.5,"pct":59.4},{"sat":"ASCATB","lat":21.4,"pct":59.0},{"sat":"ASCATB","lat":22.3,"pct":58.6},{"sat":"ASCATB","lat":23.2,"pct":58.2},{"sat":"ASCATB","lat":24.1,"pct":56.5},{"sat":"ASCATB","lat":25.0,"pct":55.3},{"sat":"ASCATB","lat":25.9,"pct":53.3},{"sat":"ASCATB","lat":26.8,"pct":51.2},{"sat":"ASCATB","lat":27.7,"pct":49.2},{"sat":"ASCATB","lat":28.6,"pct":47.5},{"sat":"ASCATB","lat":29.5,"pct":46.7},{"sat":"ASCATB","lat":30.4,"pct":46.3},{"sat":"ASCATB","lat":31.3,"pct":46.7},{"sat":"ASCATB","lat":31.9,"pct":48.0},{"sat":"ASCATB","lat":32.5,"pct":49.6},{"sat":"ASCATB","lat":33.1,"pct":51.6},{"sat":"ASCATB","lat":34.0,"pct":54.1},{"sat":"ASCATB","lat":34.9,"pct":56.1},{"sat":"ASCATB","lat":35.7,"pct":58.2},{"sat":"ASCATB","lat":36.3,"pct":60.2},{"sat":"ASCATB","lat":37.5,"pct":61.4},{"sat":"ASCATB","lat":38.7,"pct":61.0},{"sat":"ASCATB","lat":39.9,"pct":61.8},{"sat":"ASCATB","lat":41.1,"pct":63.9},{"sat":"ASCATB","lat":42.3,"pct":64.3},{"sat":"ASCATB","lat":43.5,"pct":64.0},{"sat":"ASCATB","lat":44.7,"pct":63.5},{"sat":"ASCATB","lat":45.3,"pct":62.7},{"sat":"ASCATB","lat":46.1,"pct":65.5},{"sat":"ASCATB","lat":47.3,"pct":66.7},{"sat":"ASCATB","lat":48.5,"pct":68.0},{"sat":"ASCATB","lat":49.1,"pct":68.4},{"sat":"ASCATB","lat":50.0,"pct":66.7},{"sat":"ASCATB","lat":50.9,"pct":65.5},{"sat":"ASCATB","lat":51.8,"pct":63.9},{"sat":"ASCATB","lat":52.7,"pct":61.4},{"sat":"ASCATB","lat":53.6,"pct":58.2},{"sat":"ASCATB","lat":54.5,"pct":54.9},{"sat":"ASCATB","lat":55.4,"pct":52.5},{"sat":"ASCATB","lat":56.3,"pct":50.0},{"sat":"ASCATB","lat":57.2,"pct":47.5},{"sat":"ASCATB","lat":58.1,"pct":45.9},{"sat":"ASCATB","lat":59.0,"pct":44.3},{"sat":"ASCATB","lat":59.9,"pct":42.6},{"sat":"ASCATB","lat":60.5,"pct":41.8},{"sat":"ASCATB","lat":61.1,"pct":43.5},{"sat":"ASCATB","lat":62.0,"pct":50.0},{"sat":"ASCATB","lat":62.9,"pct":56.5},{"sat":"ASCATB","lat":63.8,"pct":62.3},{"sat":"ASCATB","lat":64.7,"pct":64.7},{"sat":"ASCATB","lat":65.6,"pct":65.5},{"sat":"ASCATB","lat":66.3,"pct":64.7},{"sat":"ASCATB","lat":67.0,"pct":67.2},{"sat":"ASCATB","lat":67.6,"pct":62.3},{"sat":"ASCATB","lat":68.5,"pct":65.5},{"sat":"ASCATB","lat":69.4,"pct":63.9},{"sat":"ASCATB","lat":70.3,"pct":66.3},{"sat":"ASCATB","lat":71.2,"pct":65.5},{"sat":"ASCATB","lat":72.1,"pct":67.2},{"sat":"ASCATB","lat":73.0,"pct":69.6},{"sat":"ASCATB","lat":73.6,"pct":71.2},{"sat":"ASCATB","lat":74.2,"pct":68.0},{"sat":"ASCATB","lat":74.8,"pct":61.4},{"sat":"ASCATB","lat":75.4,"pct":54.9},{"sat":"ASCATB","lat":76.0,"pct":47.5},{"sat":"ASCATB","lat":76.6,"pct":40.2},{"sat":"ASCATB","lat":77.2,"pct":28.8},{"sat":"ASCATB","lat":77.8,"pct":22.2},{"sat":"ASCATB","lat":78.2,"pct":17.3},{"sat":"ASCATB","lat":78.7,"pct":19.8},{"sat":"ASCATB","lat":79.3,"pct":20.0},{"sat":"ASCATB","lat":79.8,"pct":20.2},{"sat":"ASCATB","lat":80,"pct":8}
]},
"layer": [
{"mark": {"type": "line", "strokeWidth": 1.7, "clip": true},
 "encoding": {
  "x": {"field": "lat", "type": "quantitative", "scale": {"domain": [-60, 80], "nice": false, "zero": false},
        "axis": {"orient": "bottom", "values": [-60,-40,-20,0,20,40,60,80], "grid": false, "tickSize": -7, "labelPadding": 10, "labelFontSize": 14, "labelFontWeight": "bold", "labelColor": "black", "labelFlush": false, "labelOverlap": false, "domainColor": "#8c8c8c", "tickColor": "#8c8c8c", "title": "Latitude (ᴼN)", "titleFontSize": 16, "titleFontWeight": "bold", "titleColor": "black", "titlePadding": 4}},
  "y": {"field": "pct", "type": "quantitative", "scale": {"domain": [0, 100], "nice": false},
        "axis": {"orient": "left", "values": [0,10,20,30,40,50,60,70,80,90,100], "grid": false, "tickSize": -7, "labelPadding": 9, "labelFontSize": 14, "labelFontWeight": "bold", "labelColor": "black", "labelFlush": false, "labelOverlap": false, "domainColor": "#8c8c8c", "tickColor": "#8c8c8c", "title": "Zonal-average Data Availability (%)", "titleFontSize": 16, "titleFontWeight": "bold", "titleColor": "black", "titleX": -28, "titleY": 194}},
  "color": {"field": "sat", "type": "nominal",
        "scale": {"domain": ["SMOPS","SMOS","SMAP","AMSR-2","ASCATA","ASCATB"], "range": ["#1f3ff5","#1b8c1b","#ff2626","#19c8c8","#f01ee0","#c8c314"]},
        "legend": {"orient": "none", "legendX": 159, "legendY": 291.5, "title": null, "symbolType": "M-2,0H2", "symbolSize": 110, "symbolStrokeWidth": 2, "labelFontSize": 14, "labelFontWeight": "bold", "labelColor": "black", "labelOffset": 6, "rowPadding": 3.3, "padding": 0}}
 }},
{"mark": {"type": "point", "opacity": 0},
 "encoding": {
  "x": {"field": "lat", "type": "quantitative", "axis": {"orient": "top", "values": [-60,-40,-20,0,20,40,60,80], "labels": false, "title": null, "grid": false, "tickSize": -7, "domainColor": "#8c8c8c", "tickColor": "#8c8c8c"}},
  "y": {"field": "pct", "type": "quantitative", "axis": {"orient": "right", "values": [0,10,20,30,40,50,60,70,80,90,100], "labels": false, "title": null, "grid": false, "tickSize": -7, "domainColor": "#8c8c8c", "tickColor": "#8c8c8c"}}
 }}
],
"resolve": {"axis": {"x": "independent", "y": "independent"}}
}
